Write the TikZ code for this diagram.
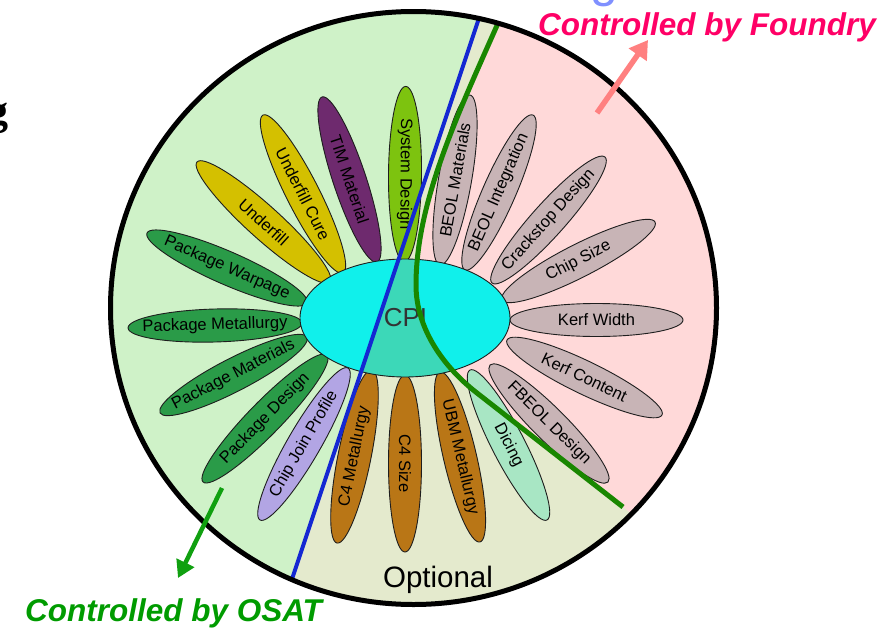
\documentclass[tikz,border=0pt]{standalone}
\usepackage{fontspec}
\setmainfont{Liberation Sans}
\newfontfamily\serifg{Liberation Serif}
\usetikzlibrary{arrows.meta}
\definecolor{leftcol}{RGB}{207,242,200}
\definecolor{pinkcol}{RGB}{255,217,217}
\definecolor{mixcol}{RGB}{228,234,205}
\definecolor{csys}{RGB}{125,195,15}
\definecolor{ctim}{RGB}{110,42,110}
\definecolor{cund}{RGB}{212,192,0}
\definecolor{cpkg}{RGB}{42,155,72}
\definecolor{cjoin}{RGB}{178,165,228}
\definecolor{cfour}{RGB}{185,118,22}
\definecolor{cdice}{RGB}{168,230,196}
\definecolor{cfab}{RGB}{200,180,182}
\definecolor{cpicol}{RGB}{16,240,235}
\definecolor{cpimid}{RGB}{60,216,184}
\definecolor{petaledge}{RGB}{30,30,30}
\definecolor{blueln}{RGB}{20,40,210}
\definecolor{greenln}{RGB}{25,135,0}
\definecolor{foundrycol}{RGB}{255,0,102}
\definecolor{osatcol}{RGB}{0,155,0}
\definecolor{foundryarrow}{RGB}{255,128,128}
\definecolor{osatarrow}{RGB}{16,160,16}
\definecolor{titleblue}{RGB}{128,144,255}
\tikzset{
  petaltext/.style={inner sep=0pt, text=black, font=\fontsize{16.5}{18}\selectfont},
  petalshape/.style={draw=petaledge, line width=0.9pt},
  blueline/.style={draw=blueln, line width=4pt},
  greenline/.style={draw=greenln, line width=5pt},
  rimline/.style={draw=black, line width=5pt},
  bigtag/.style={inner sep=0pt, font=\fontsize{31.5}{34}\selectfont\bfseries\itshape},
  foundryarrowstyle/.style={draw=foundryarrow, line width=5.5pt, -{Triangle[length=18pt,width=21pt]}},
  osatarrowstyle/.style={draw=osatarrow, line width=4.5pt, -{Triangle[length=17pt,width=19pt]}}
}
\newcommand{\flowerpetal}[7]{%
  \path[petalshape, fill=#6, rotate around={#4:(#2,#3)}] (#2,#3) ellipse [x radius=#5, y radius=16.5];
  \node[petaltext, rotate=#4] (#1) at (#2,#3) {#7};
}
\newcommand{\pinkpath}{(517,-20) -- (495,30) .. controls (455,120) and (416,205) .. (416,285) .. controls (416,330) and (445.4,368.6) .. (477,393) -- (623,507) -- (690,559.3) -- (900,559.3) -- (900,-20) -- cycle}
\newcommand{\leftpath}{(501.7,-50) -- (251.7,700) -- (-10,700) -- (-10,-50) -- cycle}
\newcommand{\midpath}{(491.7,-20) -- (251.7,700) -- (900,700) -- (900,559.3) -- (690,559.3) -- (623,507) -- (477,393) .. controls (445.4,368.6) and (416,330) .. (416,285) .. controls (416,205) and (455,120) .. (495,30) -- (517,-20) -- cycle}
\begin{document}
\begin{tikzpicture}[x=1pt,y=-1pt]
\useasboundingbox (0,0) rectangle (894,629);
\coordinate (O) at (413.5,308);
% fragments of cropped text
\begin{scope}
  \clip (0,0) rectangle (894,629);
  \node[anchor=base east, inner sep=0pt, font=\serifg\fontsize{42}{42}\selectfont\bfseries] (fragleft) at (9,124) {g};
  \node[anchor=base west, inner sep=0pt, text=titleblue, font=\fontsize{50}{50}\selectfont] (fragtop) at (590,-3.5) {g};
\end{scope}
% regions
\begin{scope}
  \clip (O) ellipse [x radius=303, y radius=296.5];
  \fill[mixcol] (O) ellipse [x radius=303, y radius=296.5];
  \fill[leftcol] \leftpath;
  \fill[pinkcol] \pinkpath;
\end{scope}
% petals
\flowerpetal{sd}{405}{174}{-90.5}{87.6}{csys}{System Design}
\flowerpetal{tim}{349.5}{179.5}{-71.6}{87}{ctim}{TIM Material}
\flowerpetal{ufc}{303}{194}{-63.1}{88.5}{cund}{Underfill Cure}
\flowerpetal{uf}{263.5}{222}{-42.1}{89.6}{cund}{Underfill}
\flowerpetal{pw}{227}{268}{-23.6}{87.3}{cpkg}{Package Warpage}
\flowerpetal{pmet}{215}{325.5}{1.6}{87}{cpkg}{Package Metallurgy}
\flowerpetal{pmat}{233.5}{375}{27.3}{82.7}{cpkg}{Package Materials}
\flowerpetal{pd}{265}{418.5}{45.7}{88.7}{cpkg}{Package Design}
\flowerpetal{cjp}{304}{444}{59.9}{87.8}{cjoin}{Chip Join Profile}
\flowerpetal{cfm}{354.5}{456.5}{78.6}{88.3}{cfour}{C4 Metallurgy}
\flowerpetal{cfs}{405}{463.5}{-90}{88.5}{cfour}{C4 Size}
\flowerpetal{ubm}{460}{457}{-76.8}{87.3}{cfour}{UBM Metallurgy}
\flowerpetal{dic}{508.5}{445}{-62.8}{84.3}{cdice}{Dicing}
\flowerpetal{fbeol}{549}{423.5}{-44.8}{83.1}{cfab}{FBEOL Design}
\flowerpetal{kc}{584.5}{377.5}{-25.8}{86.1}{cfab}{Kerf Content}
\flowerpetal{kw}{596.5}{320}{0}{86.5}{cfab}{Kerf Width}
\flowerpetal{cs}{578.5}{261}{27}{85.9}{cfab}{Chip Size}
\flowerpetal{crack}{548.5}{220}{48.1}{84.6}{cfab}{Crackstop Design}
\flowerpetal{beoli}{499}{192.5}{66.3}{84.6}{cfab}{BEOL Integration}
\flowerpetal{beolm}{455}{180}{80}{86.3}{cfab}{BEOL Materials}
% CPI centre
\path[fill=cpicol] (405,318) ellipse [x radius=105, y radius=59];
\begin{scope}
  \clip (405,318) ellipse [x radius=105, y radius=59];
  \fill[cpimid] \midpath;
\end{scope}
\path[petalshape] (405,318) ellipse [x radius=105, y radius=59];
\node[inner sep=0pt, text=black!80, font=\fontsize{26}{28}\selectfont] (cpi) at (405.5,317.5) {CPI};
% dividing lines
\begin{scope}
  \clip (O) ellipse [x radius=303, y radius=296.5];
  \path[blueline] (501.7,-50) -- (251.7,700);
  \path[greenline] (517,-20) -- (495,30) .. controls (455,120) and (416,205) .. (416,285) .. controls (416,330) and (445.4,368.6) .. (477,393) -- (623,507);
\end{scope}
\path[rimline] (O) ellipse [x radius=303, y radius=296.5];
% labels
\node[inner sep=0pt, anchor=base, font=\fontsize{29.5}{32}\selectfont] (optional) at (438,587) {Optional};
\node[bigtag, text=foundrycol, anchor=base] (foundry) at (707,35) {Controlled by Foundry};
\node[bigtag, text=osatcol, anchor=base] (osat) at (173.5,621.5) {Controlled by OSAT};
\coordinate (fa1) at (597,113);
\coordinate (fa2) at (648,40);
\coordinate (oa1) at (222,488);
\coordinate (oa2) at (178,578);
\path[foundryarrowstyle] (fa1) -- (fa2);
\path[osatarrowstyle] (oa1) -- (oa2);
\end{tikzpicture}
\end{document}
